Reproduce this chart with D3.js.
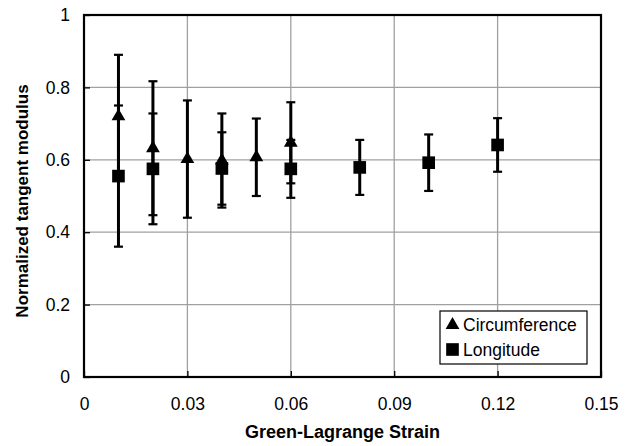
<!DOCTYPE html>
<html>
<head>
<meta charset="utf-8">
<script src="https://cdn.jsdelivr.net/npm/d3@7"></script>
<style>
  body { margin: 0; background: #fff; }
  text { font-family: "Liberation Sans", Arial, sans-serif; }
</style>
</head>
<body>
<div id="chart"></div>
<script>
const F_WIDTH = 628;
const F_HEIGHT = 446;
const MARGINS = {left: 84, right: 27, top: 15, bottom: 69};

const VIS_WIDTH = F_WIDTH - MARGINS.left - MARGINS.right;
const VIS_HEIGHT = F_HEIGHT - MARGINS.top - MARGINS.bottom;

// data
const X_TICKS = [0, 0.03, 0.06, 0.09, 0.12, 0.15];
const Y_TICKS = [0, 0.2, 0.4, 0.6, 0.8, 1];

const CIRC_STRAIN = [0.01, 0.02, 0.03, 0.04, 0.05, 0.06];
const CIRC_MEAN   = [0.72, 0.632, 0.602, 0.598, 0.607, 0.647];
const CIRC_SD     = [0.17, 0.185, 0.162, 0.13, 0.107, 0.112];

const LONG_STRAIN = [0.01, 0.02, 0.04, 0.06, 0.08, 0.10, 0.12];
const LONG_MEAN   = [0.555, 0.575, 0.576, 0.575, 0.579, 0.592, 0.641];
const LONG_SD     = [0.195, 0.153, 0.10, 0.08, 0.076, 0.078, 0.074];

const SERIES = [
  {name: "Circumference", shape: d3.symbolTriangle, size: 82,
   x: CIRC_STRAIN, y: CIRC_MEAN, e: CIRC_SD},
  {name: "Longitude", shape: d3.symbolSquare, size: 160,
   x: LONG_STRAIN, y: LONG_MEAN, e: LONG_SD}
];

const FRAME = d3.select("#chart")
  .append("svg")
    .attr("width", F_WIDTH)
    .attr("height", F_HEIGHT);

const X_SCALE = d3.scaleLinear().domain([0, 0.15]).range([0, VIS_WIDTH]);
const Y_SCALE = d3.scaleLinear().domain([0, 1]).range([VIS_HEIGHT, 0]);

const PLOT = FRAME.append("g")
  .attr("transform", "translate(" + MARGINS.left + "," + MARGINS.top + ")");

// gridlines
PLOT.append("g")
  .selectAll("line")
  .data(Y_TICKS.slice(1, -1))
  .enter()
  .append("line")
    .attr("x1", 0).attr("x2", VIS_WIDTH)
    .attr("y1", d => Y_SCALE(d)).attr("y2", d => Y_SCALE(d))
    .attr("stroke", "#a0a0a0").attr("stroke-width", 1.3);

PLOT.append("g")
  .selectAll("line")
  .data(X_TICKS.slice(1, -1))
  .enter()
  .append("line")
    .attr("y1", 0).attr("y2", VIS_HEIGHT)
    .attr("x1", d => X_SCALE(d)).attr("x2", d => X_SCALE(d))
    .attr("stroke", "#a0a0a0").attr("stroke-width", 1.3);

// axes
const xAxis = PLOT.append("g")
  .attr("transform", "translate(0," + VIS_HEIGHT + ")")
  .call(d3.axisBottom(X_SCALE).tickValues(X_TICKS).tickSizeInner(-6).tickSizeOuter(0)
        .tickPadding(21).tickFormat(d => d === 0 ? "0" : d3.format(".2f")(d)));

const yAxis = PLOT.append("g")
  .call(d3.axisLeft(Y_SCALE).tickValues(Y_TICKS).tickSizeInner(-6).tickSizeOuter(0)
        .tickPadding(14).tickFormat(d => (d === 0 || d === 1) ? String(d) : d3.format(".1f")(d)));

[xAxis, yAxis].forEach(a => {
  a.select(".domain").remove();
  a.selectAll(".tick line").attr("stroke", "#000").attr("stroke-width", 1.3);
  a.selectAll("text").attr("font-size", 17.5).attr("fill", "#000");
});

// frame border
PLOT.append("rect")
  .attr("x", 0).attr("y", 0)
  .attr("width", VIS_WIDTH).attr("height", VIS_HEIGHT)
  .attr("fill", "none").attr("stroke", "#000").attr("stroke-width", 2.2);

// error bars and markers
SERIES.forEach(s => {
  const pts = s.x.map((x, i) => ({x: x, y: s.y[i], e: s.e[i]}));
  const g = PLOT.append("g");

  g.selectAll("line.bar")
    .data(pts).enter().append("line")
      .attr("x1", d => X_SCALE(d.x)).attr("x2", d => X_SCALE(d.x))
      .attr("y1", d => Y_SCALE(d.y + d.e)).attr("y2", d => Y_SCALE(d.y - d.e))
      .attr("stroke", "#000").attr("stroke-width", 3);

  [1, -1].forEach(sign => {
    g.selectAll("line.cap" + sign)
      .data(pts).enter().append("line")
        .attr("x1", d => X_SCALE(d.x) - 4.5).attr("x2", d => X_SCALE(d.x) + 4.5)
        .attr("y1", d => Y_SCALE(d.y + sign * d.e)).attr("y2", d => Y_SCALE(d.y + sign * d.e))
        .attr("stroke", "#000").attr("stroke-width", 2.2);
  });

  g.selectAll("path")
    .data(pts).enter().append("path")
      .attr("d", d3.symbol().type(s.shape).size(s.size))
      .attr("transform", d => "translate(" + X_SCALE(d.x) + "," + Y_SCALE(d.y) + ")")
      .attr("fill", "#000");
});

// legend
const LEGEND = FRAME.append("g").attr("transform", "translate(440,311)");
LEGEND.append("rect")
  .attr("width", 147).attr("height", 53)
  .attr("fill", "#fff").attr("stroke", "#000").attr("stroke-width", 1.2);

SERIES.forEach((s, i) => {
  const row = LEGEND.append("g").attr("transform", "translate(12.5," + (14 + i * 24.5) + ")");
  row.append("path")
    .attr("d", d3.symbol().type(s.shape).size(s.size))
    .attr("fill", "#000");
  row.append("text")
    .attr("x", 10.5).attr("y", 6.3)
    .attr("font-size", 17.5)
    .text(s.name);
});

// axis titles
FRAME.append("text")
  .attr("x", MARGINS.left + VIS_WIDTH / 2).attr("y", 437.5)
  .attr("text-anchor", "middle")
  .attr("font-size", 18).attr("font-weight", "bold")
  .text("Green-Lagrange Strain");

FRAME.append("text")
  .attr("transform", "translate(28," + (MARGINS.top + 186) + ") rotate(-90)")
  .attr("text-anchor", "middle")
  .attr("font-size", 17).attr("font-weight", "bold")
  .text("Normalized tangent modulus");
</script>
</body>
</html>
